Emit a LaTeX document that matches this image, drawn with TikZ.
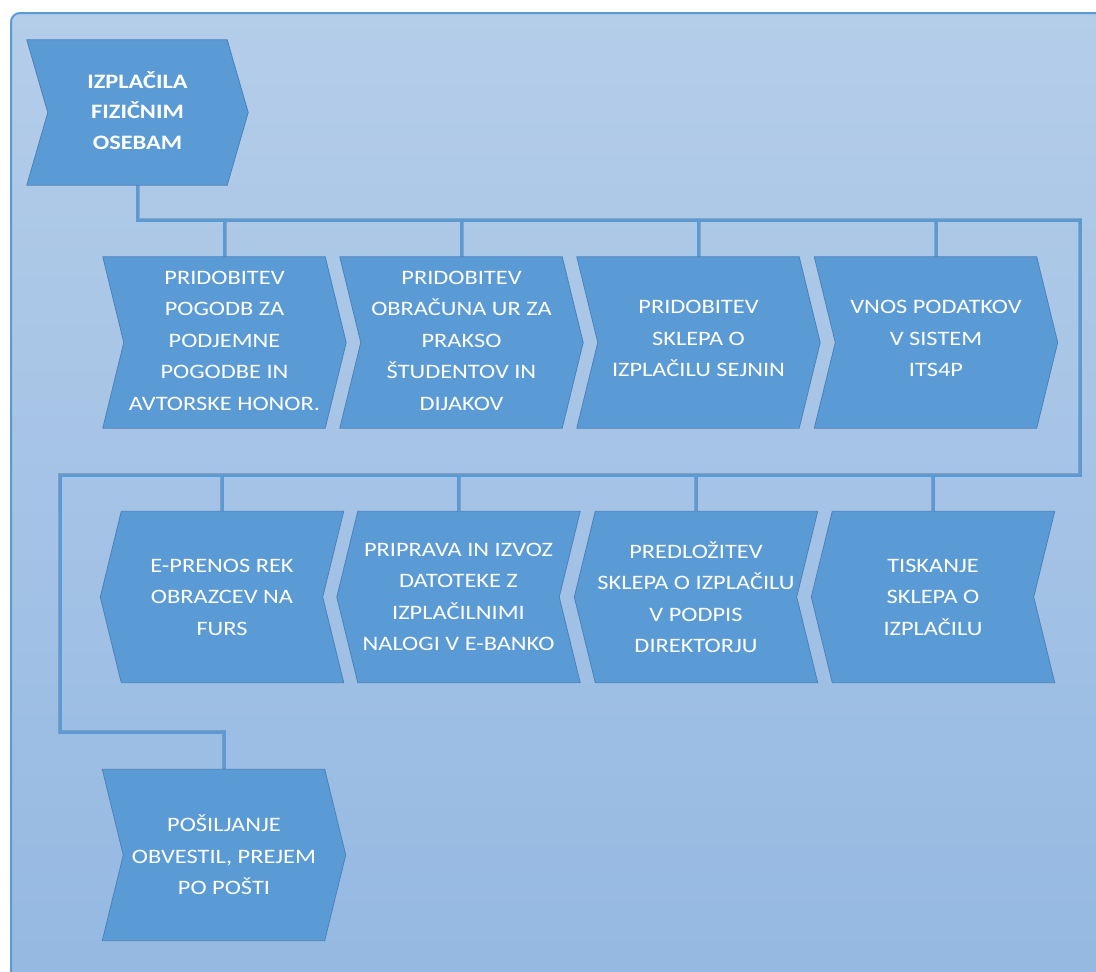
\documentclass[tikz,border=0pt]{standalone}
\usepackage{fontspec}
\setmainfont{Carlito}
\usetikzlibrary{calc}

\definecolor{accent}{HTML}{5B9BD5}
\definecolor{accentdark}{HTML}{4A82BA}
\definecolor{bgtop}{HTML}{B4CDE9}
\definecolor{bgbot}{HTML}{94B8E2}

\pgfdeclarelayer{back}
\pgfdeclarelayer{links}
\pgfdeclarelayer{shapes}
\pgfsetlayers{back,links,shapes,main}

\tikzset{
  stage/.style={minimum width=243pt, minimum height=171pt, inner sep=0pt},
  headstage/.style={stage, minimum width=221pt, minimum height=145pt},
  % widened white captions
  caption/.style={xscale=1.19, transform shape, inner sep=0pt, align=center,
    text=white, font=\fontsize{20.5}{31.5}\selectfont},
  headcaption/.style={caption, font=\fontsize{20.5}{30.5}\selectfont\bfseries},
  stagefill/.style={fill=accent, draw=accentdark, line width=0.8pt, line join=miter},
  link/.style={draw=accent, line width=3pt},
  linkshadow/.style={draw=black, opacity=0.18, line width=4pt, shift={(3,3)}},
}

% chevron pointing right (notch on the left)
\newcommand\chevright[1]{%
  \begin{pgfonlayer}{shapes}
  \path[stagefill] (#1.north west) -- ([xshift=-21pt]#1.north east) -- (#1.east)
    -- ([xshift=-21pt]#1.south east) -- (#1.south west) -- ([xshift=21pt]#1.west) -- cycle;
  \end{pgfonlayer}}
% chevron pointing left (notch on the right)
\newcommand\chevleft[1]{%
  \begin{pgfonlayer}{shapes}
  \path[stagefill] (#1.west) -- ([xshift=21pt]#1.north west) -- (#1.north east)
    -- ([xshift=-21pt]#1.east) -- (#1.south east) -- ([xshift=21pt]#1.south west) -- cycle;
  \end{pgfonlayer}}

\begin{document}
\begin{tikzpicture}[x=1pt, y=-1pt]
\useasboundingbox (0,0) rectangle (1096,972);
\clip (0,0) rectangle (1096,972);

% panel
\begin{pgfonlayer}{back}
  \shade[top color=bgtop, bottom color=bgbot, draw=accent, line width=2pt,
    rounded corners=9pt] (11,13) rectangle (1130,1010);
\end{pgfonlayer}

% stage outlines
\node[headstage] (head) at (137.5,112.5) {};
\node[stage] (s1) at (224.5,342.5) {};
\node[stage] (s2) at (461.5,342.5) {};
\node[stage] (s3) at (698.5,342.5) {};
\node[stage] (s4) at (936,342.5) {};
\node[stage] (s5) at (222,597) {};
\node[stage] (s6) at (458.5,597) {};
\node[stage] (s7) at (696,597) {};
\node[stage] (s8) at (933,597) {};
\node[stage] (s9) at (224,855) {};

\chevright{head}
\chevright{s1}\chevright{s2}\chevright{s3}\chevright{s4}
\chevleft{s5}\chevleft{s6}\chevleft{s7}\chevleft{s8}
\chevright{s9}

% captions
\node[headcaption] (headt) at ([yshift=2pt]head.center) {IZPLAČILA\\FIZIČNIM\\OSEBAM};
\node[caption] (s1t) at ([yshift=2pt]s1.center) {PRIDOBITEV\\POGODB ZA\\PODJEMNE\\POGODBE IN\\AVTORSKE HONOR.};
\node[caption] (s2t) at ([yshift=2pt]s2.center) {PRIDOBITEV\\OBRAČUNA UR ZA\\PRAKSO\\ŠTUDENTOV IN\\DIJAKOV};
\node[caption] (s3t) at ([yshift=4pt]s3.center) {PRIDOBITEV\\SKLEPA O\\IZPLAČILU SEJNIN};
\node[caption] (s4t) at ([yshift=4pt]s4.center) {VNOS PODATKOV\\V SISTEM\\ITS4P};
\node[caption] (s5t) at (s5.center) {E-PRENOS REK\\OBRAZCEV NA\\FURS};
\node[caption] (s6t) at (s6.center) {PRIPRAVA IN IZVOZ\\DATOTEKE Z\\IZPLAČILNIMI\\NALOGI V E-BANKO};
\node[caption] (s7t) at (s7.center) {PREDLOŽITEV\\SKLEPA O IZPLAČILU\\V PODPIS\\DIREKTORJU};
\node[caption] (s8t) at (s8.center) {TISKANJE\\SKLEPA O\\IZPLAČILU};
\node[caption] (s9t) at (s9.center) {POŠILJANJE\\OBVESTIL, PREJEM\\PO POŠTI};

% bus corners
\coordinate (busR) at (1080,220);
\coordinate (busL) at (60,475);
\coordinate (jog) at (60,732);

\begin{pgfonlayer}{links}
  \foreach \sty in {linkshadow,link} {
    \draw[\sty, line join=miter] (head.south) |- (busR) |- (busL) -- (jog) -| (s9.north);
    \foreach \n in {s1,s2,s3,s4} \draw[\sty] (\n.north) -- (\n.north |- busR);
    \foreach \n in {s5,s6,s7,s8} \draw[\sty] (\n.north) -- (\n.north |- busL);
  }
\end{pgfonlayer}
\end{tikzpicture}
\end{document}
